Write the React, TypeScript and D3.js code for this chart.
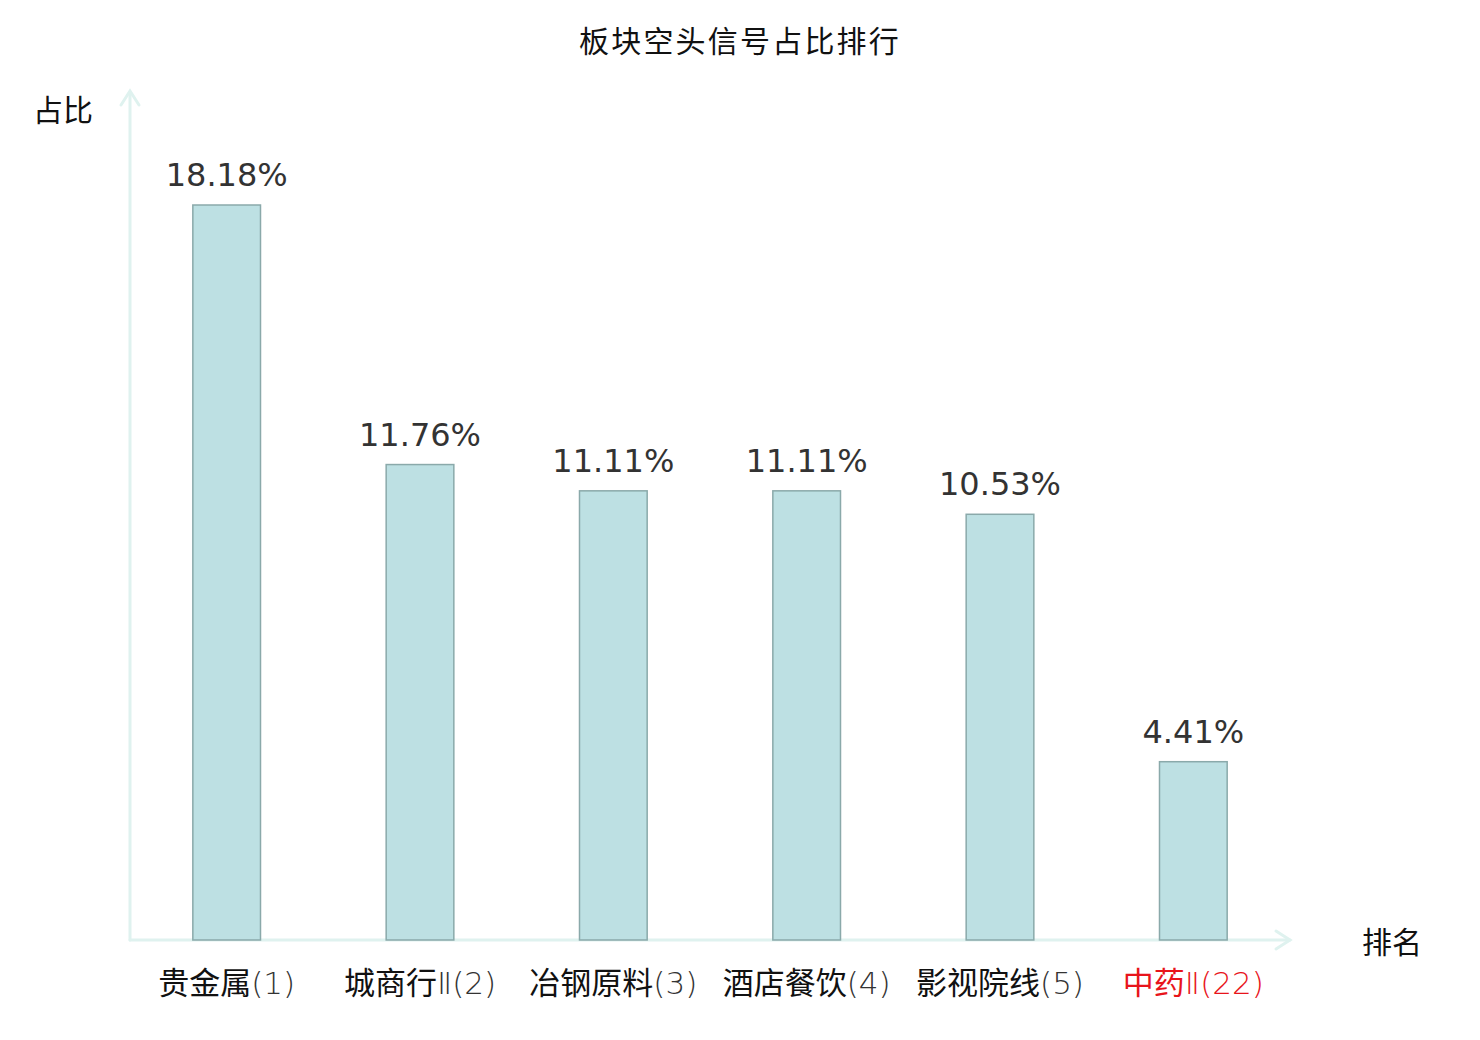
import * as d3 from "d3";

const W = 1480, H = 1040;
const categories = ["贵金属", "城商行", "冶钢原料", "酒店餐饮", "影视院线", "中药"];
const suffixes = ["", "Ⅱ", "", "", "", "Ⅱ"];
const ranks = [1, 2, 3, 4, 5, 22];
const values = [18.18, 11.76, 11.11, 11.11, 10.53, 4.41];
const highlight = [false, false, false, false, false, true];

const CJK = "'Noto Sans CJK SC', 'Noto Sans', sans-serif";
const NUM = "'DejaVu Sans', sans-serif";
const LIGHT = "'DejaVu Sans ExtraLight', 'DejaVu Sans', sans-serif";
const AXIS = "#dff2ef";

export default function App() {
  const x0 = 130, x1 = 1290, base = 940;
  const x = d3.scaleBand<number>().domain(d3.range(values.length)).range([x0, x1]).paddingInner(0.65).paddingOuter(0.325);
  const y = d3.scaleLinear().domain([0, 18.18]).range([base, 205]);

  return (
    <svg width={W} height={H} style={{ position: "absolute", left: 0, top: 0, background: "#fff" }}>
      <text x={740} y={52} textAnchor="middle" fontSize={30} fontFamily={CJK} letterSpacing={2.2} fill="#111">
        板块空头信号占比排行
      </text>
      <text x={63} y={121} textAnchor="middle" fontSize={30} fontFamily={CJK} fill="#111">占比</text>
      <text x={1392} y={953} textAnchor="middle" fontSize={30} fontFamily={CJK} fill="#111">排名</text>

      {/* axes */}
      <g stroke={AXIS} strokeWidth={3} fill="none" strokeLinecap="round">
        <line x1={x0} y1={base} x2={x0} y2={92} />
        <polyline points={`${x0 - 9},${105} ${x0},${91} ${x0 + 9},${105}`} />
        <line x1={x0} y1={base} x2={x1} y2={base} />
        <polyline points={`${x1 - 14},${931} ${x1},${base} ${x1 - 14},${949}`} />
      </g>

      {values.map((v, i) => {
        const bx = x(i)!;
        const cx = bx + x.bandwidth() / 2;
        const col = highlight[i] ? "#e8141b" : "#111";
        return (
          <g key={i}>
            <rect x={bx} y={y(v)} width={x.bandwidth()} height={base - y(v)}
              fill="#bde0e3" stroke="#8aa9aa" strokeWidth={1.5} />
            <text x={cx} y={y(v) - 19} textAnchor="middle" fontSize={32} fontFamily={NUM} fill="#333">
              {v.toFixed(2)}%
            </text>
            <text x={cx} y={994} textAnchor="middle" fontSize={31} fontFamily={CJK} fill={col}>
              {categories[i]}
              <tspan fontFamily={LIGHT} fontWeight={200} fill={highlight[i] ? "#e8141b" : "#333"}>
                {suffixes[i]}({ranks[i]})
              </tspan>
            </text>
          </g>
        );
      })}
    </svg>
  );
}
